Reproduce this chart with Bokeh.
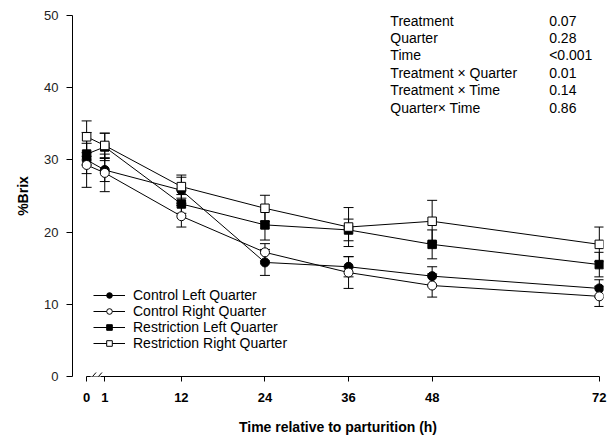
from bokeh.plotting import figure
from bokeh.models import (FixedTicker, Whisker, ColumnDataSource, Legend, LegendItem,
                          Label, Arrow, TeeHead)
from bokeh.embed import file_html
from bokeh.resources import INLINE

# ---------------- data ----------------
hours = [0, 1, 12, 24, 36, 48, 72]
hour_labels = ["0", "1", "12", "24", "36", "48", "72"]

series_names = ["Control Left Quarter", "Control Right Quarter",
                "Restriction Left Quarter", "Restriction Right Quarter"]
cl_mean = [30.0, 28.6, 25.8, 15.8, 15.2, 13.9, 12.2]
cl_se = [3.8, 1.6, 1.8, 1.8, 1.4, 1.3, 1.2]
cr_mean = [29.3, 28.2, 22.2, 17.2, 14.4, 12.6, 11.1]
cr_se = [1.2, 2.6, 1.5, 1.2, 2.2, 1.6, 1.4]
rl_mean = [30.8, 31.8, 23.9, 21.0, 20.3, 18.3, 15.5]
rl_se = [1.5, 1.9, 1.3, 2.1, 1.5, 2.0, 1.7]
rr_mean = [33.2, 32.0, 26.3, 23.3, 20.7, 21.5, 18.3]
rr_se = [2.2, 1.7, 1.6, 1.8, 2.7, 2.9, 2.4]

stat_terms = ["Treatment", "Quarter", "Time", "Treatment \u00d7 Quarter",
              "Treatment \u00d7 Time", "Quarter\u00d7 Time"]
stat_p = ["0.07", "0.28", "<0.001", "0.01", "0.14", "0.86"]

# ---------------- layout ----------------
FONT = "Liberation Sans"
BREAK_X = -1.6          # where hour 0 sits on the broken axis
xpos = [BREAK_X if h == 0 else h for h in hours]

p = figure(width=611, height=437, output_backend="svg", toolbar_location=None,
           x_range=(-3.63, 72.6), y_range=(0, 50),
           min_border_left=72, min_border_right=8, min_border_top=15,
           min_border_bottom=61)
p.outline_line_color = None
p.grid.visible = False

# y axis
ya = p.yaxis[0]
ya.ticker = FixedTicker(ticks=[0, 10, 20, 30, 40, 50])
ya.major_tick_out = 6
ya.major_tick_in = 0
ya.minor_tick_out = 0
ya.minor_tick_in = 0
ya.major_label_text_font = FONT
ya.major_label_text_font_size = "13px"
ya.major_label_text_color = "#222222"
ya.major_label_standoff = 8
ya.axis_label = "%Brix"
ya.axis_label_text_font = FONT
ya.axis_label_text_font_size = "14px"
ya.axis_label_text_font_style = "bold"
ya.axis_label_text_color = "black"
ya.axis_label_standoff = 10
ya.axis_line_color = "black"
ya.major_tick_line_color = "black"

# x axis
xa = p.xaxis[0]
xa.ticker = FixedTicker(ticks=xpos)
xa.major_label_overrides = {x: lbl for x, lbl in zip(xpos, hour_labels)}
xa.bounds = (BREAK_X, hours[-1])
xa.major_tick_out = 5
xa.major_tick_in = 0
xa.minor_tick_out = 0
xa.minor_tick_in = 0
xa.major_label_text_font = FONT
xa.major_label_text_font_size = "13px"
xa.major_label_text_font_style = "bold"
xa.major_label_text_color = "black"
xa.major_label_standoff = 11
xa.axis_label = "Time relative to parturition (h)"
xa.axis_label_text_font = FONT
xa.axis_label_text_font_size = "14px"
xa.axis_label_text_font_style = "bold"
xa.axis_label_text_color = "black"
xa.axis_label_standoff = 14
xa.axis_line_color = "black"

# axis break marks
p.add_layout(Arrow(x_start=-1.05, y_start=0, x_end=0.45, y_end=0, end=None,
                   line_color="white", line_width=3))
for x0 in (-1.25, -0.4):
    p.add_layout(Arrow(x_start=x0, y_start=-0.55, x_end=x0 + 1.0, y_end=0.55,
                       end=None, line_color="black", line_width=1))

# ---------------- series ----------------
means = [cl_mean, cr_mean, rl_mean, rr_mean]
ses = [cl_se, cr_se, rl_se, rr_se]
markers = ["circle", "circle", "square", "square"]
fills = ["black", "white", "black", "white"]
sizes = [9, 9, 8.5, 8.5]

for m, s in zip(means, ses):
    src = ColumnDataSource(dict(x=xpos,
                                lower=[a - b for a, b in zip(m, s)],
                                upper=[a + b for a, b in zip(m, s)]))
    w = Whisker(base="x", lower="lower", upper="upper", source=src,
                dimension="height", line_color="black", line_width=1,
                upper_head=TeeHead(size=10, line_color="black", line_width=1),
                lower_head=TeeHead(size=10, line_color="black", line_width=1))
    p.add_layout(w)

line_rs = []
for m in means:
    line_rs.append(p.line(xpos, m, line_color="black", line_width=1))
mark_rs = []
for m, mk, fc, sz in zip(means, markers, fills, sizes):
    mark_rs.append(p.scatter(xpos, m, marker=mk, size=sz, fill_color=fc,
                             line_color="black", line_width=1))

legend = Legend(items=[LegendItem(label=n, renderers=[lr, mr])
                       for n, lr, mr in zip(series_names, line_rs, mark_rs)],
                location=(21, 25), padding=0, margin=0, spacing=0,
                label_height=14, glyph_height=14, glyph_width=32,
                label_standoff=8, border_line_color=None,
                background_fill_alpha=0, label_text_font=FONT,
                label_text_font_size="14px", label_text_color="black")
p.add_layout(legend)

# ---------------- statistics text ----------------
STAT_X = 42.0
VAL_X = 64.8
STAT_TOP = 49.3
STAT_STEP = 2.42
for i, (t, v) in enumerate(zip(stat_terms, stat_p)):
    y = STAT_TOP - i * STAT_STEP
    p.add_layout(Label(x=STAT_X, y=y, text=t, text_font=FONT,
                       text_font_size="14px", text_baseline="middle",
                       text_color="black"))
    p.add_layout(Label(x=VAL_X, y=y, text=v, text_font=FONT,
                       text_font_size="14px", text_baseline="middle",
                       text_color="black"))

open("out.html", "w").write(file_html(p, INLINE))
